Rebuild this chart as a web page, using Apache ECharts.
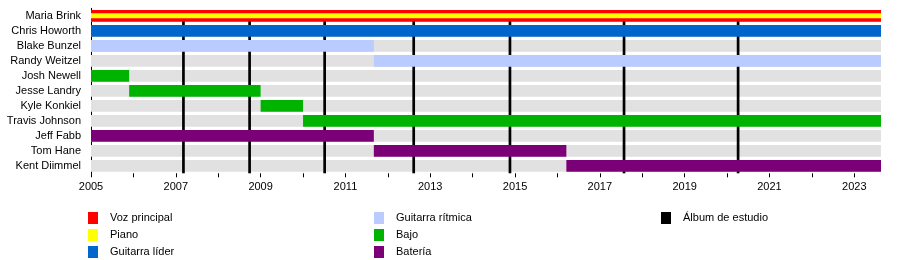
<!DOCTYPE html>
<html>
<head>
<meta charset="utf-8">
<script src="https://cdn.jsdelivr.net/npm/echarts@6/dist/echarts.min.js"></script>
<style>
  html, body { margin: 0; padding: 0; background: #fff; }
  #chart { width: 900px; height: 260px; }
</style>
</head>
<body>
<div id="chart"></div>
<script>
// miembros (de arriba a abajo)
var members = ['Maria Brink', 'Chris Howorth', 'Blake Bunzel', 'Randy Weitzel', 'Josh Newell',
    'Jesse Landry', 'Kyle Konkiel', 'Travis Johnson', 'Jeff Fabb', 'Tom Hane', 'Kent Diimmel'];
var START = 2005;
var END = 2023.63;
// [miembro, desde, hasta]
var vozPrincipal = [[0, 2005, END]];
var piano = [[0, 2005, END]];
var guitarraLider = [[1, 2005, END]];
var guitarraRitmica = [[2, 2005, 2011.67], [3, 2011.67, END]];
var bajo = [[4, 2005, 2005.9], [5, 2005.9, 2009.0], [6, 2009.0, 2010.0], [7, 2010.0, END]];
var bateria = [[8, 2005, 2011.67], [9, 2011.67, 2016.21], [10, 2016.21, END]];
var albumes = [2007.18, 2008.74, 2010.51, 2012.61, 2014.88, 2017.57, 2020.26];
var tickYears = [2005, 2006, 2007, 2008, 2009, 2010, 2011, 2012, 2013, 2014, 2015, 2016, 2017, 2018, 2019, 2020, 2021, 2022, 2023];
var labelYears = [2005, 2007, 2009, 2011, 2013, 2015, 2017, 2019, 2021, 2023];

var FONT = '"Liberation Sans", Arial, sans-serif';

function barRender(ratio) {
    return function(params, api) {
        var s = api.coord([api.value(1), api.value(0)]);
        var e = api.coord([api.value(2), api.value(0)]);
        var h = api.size([0, 1])[1] * ratio;
        return {
            type: 'rect',
            shape: { x: s[0], y: s[1] - h / 2, width: e[0] - s[0], height: h },
            style: { fill: api.visual('color') }
        };
    };
}

function roleSeries(name, color, data, ratio, z) {
    return {
        name: name,
        type: 'custom',
        renderItem: barRender(ratio),
        itemStyle: { color: color },
        encode: { x: [1, 2], y: 0 },
        data: data,
        z: z,
        clip: false,
        silent: true
    };
}

function legendCol(left, names) {
    return {
        left: left, top: 212, height: 50, padding: 0, orient: 'vertical',
        icon: 'rect', itemWidth: 10, itemHeight: 12, itemGap: 5,
        textStyle: { fontSize: 11, color: '#000', fontFamily: FONT, padding: [0, 0, 0, 7] },
        data: names, selectedMode: false
    };
}

var fondo = members.map(function(m, i) { return [i, START, END]; });

var chart = echarts.init(document.getElementById('chart'));
var option = {
    animation: false,
    textStyle: { fontFamily: FONT },
    grid: { left: 91, right: 19, top: 8.3, height: 165 },
    xAxis: {
        type: 'value',
        min: START,
        max: END,
        axisLine: { lineStyle: { color: '#000', width: 1 } },
        axisTick: { show: true, length: 4, lineStyle: { color: '#000' }, customValues: tickYears },
        axisLabel: {
            color: '#000', fontSize: 11, margin: 8, fontFamily: FONT, customValues: labelYears,
            formatter: function(v) { return String(Math.round(v)); }
        },
        splitLine: { show: false }
    },
    yAxis: {
        type: 'category',
        inverse: true,
        data: members,
        axisLine: { show: true, lineStyle: { color: '#000' } },
        axisTick: { show: false },
        axisLabel: { color: '#000', fontSize: 11, margin: 10, fontFamily: FONT },
        splitLine: { show: false }
    },
    legend: [
        legendCol(88, ['Voz principal', 'Piano', 'Guitarra líder']),
        legendCol(374, ['Guitarra rítmica', 'Bajo', 'Batería']),
        legendCol(661, ['Álbum de estudio'])
    ],
    series: [
        roleSeries('fondo', '#e1e1e1', fondo, 0.78, 1),
        {
            name: 'Álbum de estudio',
            type: 'custom',
            itemStyle: { color: '#000' },
            encode: { x: 0 },
            data: albumes.map(function(a) { return [a]; }),
            z: 2,
            silent: true,
            renderItem: function(params, api) {
                var top = api.coord([api.value(0), 0]);
                var bot = api.coord([api.value(0), members.length - 1]);
                var band = api.size([0, 1])[1];
                return {
                    type: 'line',
                    shape: { x1: top[0], y1: top[1], x2: bot[0], y2: bot[1] + band / 2 },
                    style: { stroke: '#000', lineWidth: 2.7 }
                };
            }
        },
        roleSeries('Voz principal', '#ff0000', vozPrincipal, 0.78, 3),
        roleSeries('Piano', '#ffff00', piano, 0.333, 4),
        roleSeries('Guitarra líder', '#0066cc', guitarraLider, 0.78, 3),
        roleSeries('Guitarra rítmica', '#b9cbff', guitarraRitmica, 0.78, 3),
        roleSeries('Bajo', '#00b300', bajo, 0.78, 3),
        roleSeries('Batería', '#7b0078', bateria, 0.78, 3)
    ]
};
chart.setOption(option);
</script>
</body>
</html>
